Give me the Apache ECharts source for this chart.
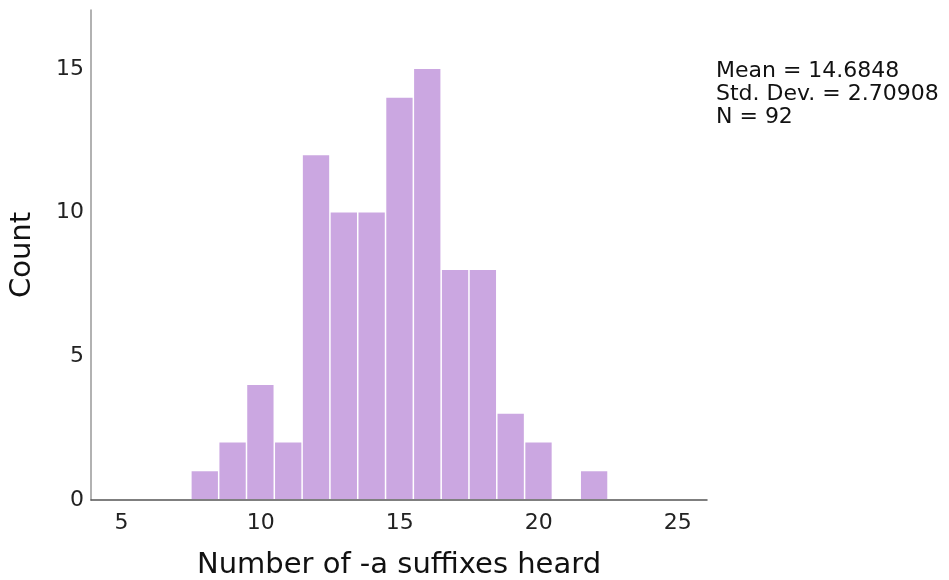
<!DOCTYPE html>
<html>
<head>
<meta charset="utf-8">
<script src="https://cdn.jsdelivr.net/npm/echarts@6/dist/echarts.min.js"></script>
<style>html,body{margin:0;padding:0;background:#fff;}#c{width:949px;height:580px;}</style>
</head>
<body>
<div id="c"></div>
<script>
// bin centers (width 1) and counts
var binCenters = [8, 9, 10, 11, 12, 13, 14, 15, 16, 17, 18, 19, 20, 21, 22];
var counts     = [1, 2, 4, 2, 12, 10, 10, 14, 15, 8, 8, 3, 2, 0, 1];
var binWidth = 1;
var xTicks = [5, 10, 15, 20, 25];
var yTicks = [0, 5, 10, 15];
var statsLines = ['Mean = 14.6848', 'Std. Dev. = 2.70908', 'N = 92'];

var data = binCenters.map(function (c, i) { return [c, counts[i]]; });

var chart = echarts.init(document.getElementById('c'), null, {renderer: 'canvas'});
var font = 'DejaVu Sans';
chart.setOption({
  animation: false,
  backgroundColor: '#fff',
  grid: {left: 91, right: 242, top: 10, bottom: 80, containLabel: false, outerBoundsMode: 'none'},
  xAxis: {
    type: 'value', min: 3.9, max: 26.05,
    name: 'Number of -a suffixes heard', nameLocation: 'middle', nameGap: 51,
    nameTextStyle: {fontFamily: font, fontSize: 29, color: '#111'},
    axisLine: {show: true, lineStyle: {color: '#555', width: 1.5}},
    axisTick: {show: false},
    splitLine: {show: false},
    axisLabel: {customValues: xTicks, fontFamily: font, fontSize: 22, color: '#222', margin: 12}
  },
  yAxis: {
    type: 'value', min: 0, max: 17.05,
    name: 'Count', nameLocation: 'middle', nameGap: 54,
    nameTextStyle: {fontFamily: font, fontSize: 29, color: '#111'},
    axisLine: {show: true, lineStyle: {color: '#999', width: 1.5}},
    axisTick: {show: false},
    splitLine: {show: false},
    axisLabel: {customValues: yTicks, fontFamily: font, fontSize: 22, color: '#222', margin: 7}
  },
  series: [{
    type: 'custom',
    data: data,
    renderItem: function (params, api) {
      var c = api.value(0), v = api.value(1);
      if (!v) return null;
      var p0 = api.coord([c - binWidth / 2, 0]);
      var p1 = api.coord([c + binWidth / 2, v]);
      return {
        type: 'rect',
        shape: {x: p0[0] + 0.5, y: p1[1], width: p1[0] - p0[0] - 1.5, height: p0[1] - p1[1] - 1},
        style: {fill: '#cba7e1'}
      };
    },
    encode: {x: 0, y: 1}
  }],
  graphic: [{
    type: 'text', left: 716, top: 60,
    style: {text: statsLines.join('\n'), font: '22px "DejaVu Sans"', fill: '#111', lineHeight: 23}
  }]
});
</script>
</body>
</html>
